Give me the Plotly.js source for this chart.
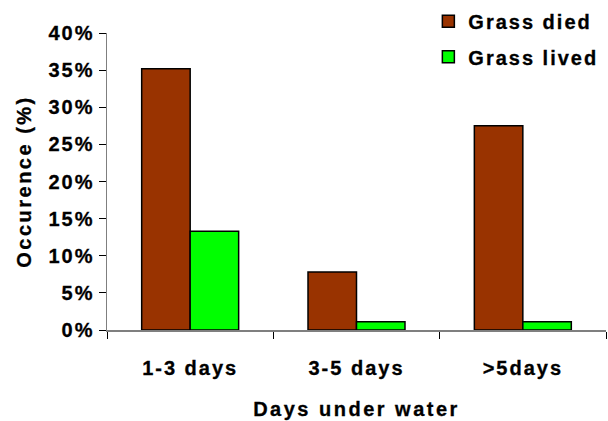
<!DOCTYPE html>
<html>
<head>
<meta charset="utf-8">
<script src="https://cdn.plot.ly/plotly-3.0.1.min.js"></script>
<style>
  html, body { margin: 0; padding: 0; background: #fff; }
  #chart { width: 608px; height: 421px; }
  .main-svg text { letter-spacing: 2px; stroke: #000; stroke-width: 0.3px; }
  .main-svg .xtitle, .main-svg .ytitle { letter-spacing: 2.5px; }
  .main-svg .legend .scrollbox { clip-path: none !important; }
</style>
</head>
<body>
<div id="chart"></div>
<script>
const categories = ["1-3 days", "3-5 days", ">5days"];
const grassDied = [35.2, 7.8, 27.5];
const grassLived = [13.3, 1.1, 1.1];
const seriesNames = ["Grass died", "Grass lived"];
const yTickValues = [0, 5, 10, 15, 20, 25, 30, 35, 40];
const yTickLabels = ["0%", "5%", "10%", "15%", "20%", "25%", "30%", "35%", "40%"];

const font = { family: "Liberation Sans, Arial, sans-serif", size: 20, color: "#000", weight: "bold" };

const traces = [
  { type: "bar", name: seriesNames[0], x: categories, y: grassDied, legendgroup: "a",
    marker: { color: "#993300", line: { color: "#000", width: 1.5 } }, hoverinfo: "skip" },
  { type: "bar", name: seriesNames[1], x: categories, y: grassLived, legendgroup: "b",
    marker: { color: "#00ff00", line: { color: "#000", width: 1.5 } }, hoverinfo: "skip" }
];

const layout = {
  width: 608, height: 421,
  margin: { l: 107, r: 2, t: 29.5, b: 90.5 },
  paper_bgcolor: "#fff", plot_bgcolor: "#fff",
  font: font,
  barmode: "group", bargap: 0.417, bargroupgap: 0,
  showlegend: true,
  legend: {
    x: 0.644, y: 1.105, xanchor: "left", yanchor: "top",
    font: font, bgcolor: "rgba(0,0,0,0)",
    traceorder: "grouped", tracegroupgap: 6.5
  },
  xaxis: {
    type: "category",
    showgrid: false, zeroline: false,
    showline: true, linecolor: "#7f7f7f", linewidth: 1.5,
    ticks: "outside", ticklen: 7, tickwidth: 1, tickcolor: "#000",
    tickson: "boundaries",
    ticklabelstandoff: 19,
    tickfont: font,
    title: { text: "Days under water", font: font, standoff: 24 }
  },
  yaxis: {
    range: [0, 40], tickmode: "array", tickvals: yTickValues, ticktext: yTickLabels,
    showgrid: false, zeroline: false,
    showline: true, linecolor: "#7f7f7f", linewidth: 1.5,
    ticks: "outside", ticklen: 7, tickwidth: 1, tickcolor: "#000",
    tickfont: font,
    title: { text: "Occurence (%)", font: font, standoff: 17 }
  }
};

Plotly.newPlot("chart", traces, layout, { displayModeBar: false, staticPlot: true });
</script>
</body>
</html>
